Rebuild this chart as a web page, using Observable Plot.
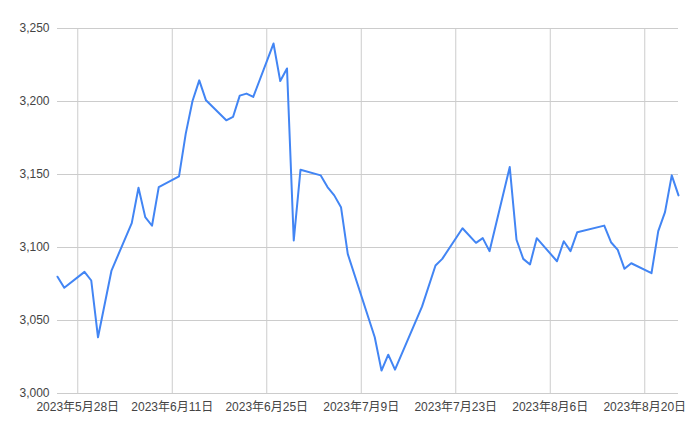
<!DOCTYPE html>
<html>
<head>
<meta charset="utf-8">
<script src="https://cdn.jsdelivr.net/npm/d3@7"></script>
<script src="https://cdn.jsdelivr.net/npm/@observablehq/plot@0.6"></script>
<style>
  html, body { margin: 0; padding: 0; background: #fff; }
  #chart svg { display: block; }
</style>
</head>
<body>
<div id="chart"></div>
<script>
const dates = [
  "2023-05-25","2023-05-26","2023-05-29","2023-05-30","2023-05-31","2023-06-02",
  "2023-06-05","2023-06-06","2023-06-07","2023-06-08","2023-06-09",
  "2023-06-12","2023-06-13","2023-06-14","2023-06-15","2023-06-16",
  "2023-06-19","2023-06-20","2023-06-21","2023-06-22","2023-06-23",
  "2023-06-26","2023-06-27","2023-06-28","2023-06-29","2023-06-30",
  "2023-07-03","2023-07-04","2023-07-05","2023-07-06","2023-07-07",
  "2023-07-11","2023-07-12","2023-07-13","2023-07-14",
  "2023-07-18","2023-07-20","2023-07-21",
  "2023-07-24","2023-07-26","2023-07-27","2023-07-28",
  "2023-07-31","2023-08-01","2023-08-02","2023-08-03","2023-08-04",
  "2023-08-07","2023-08-08","2023-08-09","2023-08-10",
  "2023-08-14","2023-08-15","2023-08-16","2023-08-17","2023-08-18",
  "2023-08-21","2023-08-22","2023-08-23","2023-08-24","2023-08-25"
];
const values = [
  3080, 3072.4, 3083.3, 3077.4, 3038.5, 3084.2,
  3116.7, 3140.9, 3120.8, 3114.9, 3141.4,
  3148.7, 3178, 3200.3, 3214.5, 3200.8,
  3187.1, 3189.4, 3204, 3205.4, 3203.1,
  3239.7, 3214, 3222.6, 3104.8, 3153.3,
  3149.4, 3141.4, 3135.7, 3127.6, 3095.6,
  3038.5, 3015.7, 3026.6, 3016.3,
  3059.5, 3087.7, 3092.2,
  3113.2, 3103.2, 3106.4, 3097.5,
  3155.1, 3105.3, 3092.2, 3088.4, 3106.4,
  3090.6, 3104.3, 3097.5, 3110.5,
  3115, 3103.6, 3098.4, 3085.4, 3089.2,
  3082.4, 3111.2, 3124.2, 3149.4, 3135.7
];
const xTickDates = ["2023-05-28","2023-06-11","2023-06-25","2023-07-09","2023-07-23","2023-08-06","2023-08-20"];
const yTicks = [3000, 3050, 3100, 3150, 3200, 3250];
const xDomain = ["2023-05-25", "2023-08-25"];
const yDomain = [3000, 3250];

const parse = d3.utcParse("%Y-%m-%d");
const data = dates.map((d, i) => ({date: parse(d), value: values[i]}));
const xTicks = xTickDates.map(parse);
const fmtDate = d => `${d.getUTCFullYear()}年${d.getUTCMonth() + 1}月${d.getUTCDate()}日`;

const chart = Plot.plot({
  width: 700,
  height: 433,
  marginTop: 28,
  marginBottom: 40,
  marginLeft: 57,
  marginRight: 22,
  style: {
    fontFamily: "Arial, 'Liberation Sans', 'Noto Sans CJK JP', sans-serif",
    fontSize: "12px",
    color: "#444",
    background: "#fff"
  },
  x: {type: "utc", domain: xDomain.map(parse)},
  y: {domain: yDomain},
  marks: [
    Plot.gridY(yTicks, {stroke: "#cccccc", strokeOpacity: 1, strokeWidth: 1}),
    Plot.gridX(xTicks, {stroke: "#cccccc", strokeOpacity: 1, strokeWidth: 1}),
    Plot.axisY(yTicks, {tickSize: 0, tickPadding: 8, tickFormat: d3.format(","), label: null, fill: "#444"}),
    Plot.axisX(xTicks, {tickSize: 0, tickPadding: 9, tickFormat: fmtDate, label: null, fill: "#444"}),
    Plot.line(data, {x: "date", y: "value", stroke: "#4285f4", strokeWidth: 2, strokeLinejoin: "round"})
  ]
});
document.getElementById("chart").appendChild(chart);
</script>
</body>
</html>
